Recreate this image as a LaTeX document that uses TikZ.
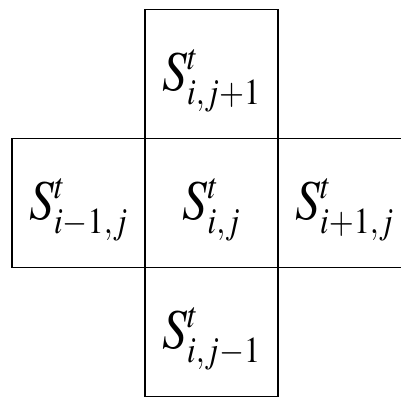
\documentclass[tikz,border=0pt]{standalone}
\usepackage{amsmath}
\usepackage{mathptmx}
\usepackage{graphicx}
\usepackage{tikz}

\DeclareMathSizes{40}{40}{26}{20}
\newcommand{\cellsym}[2]{\raisebox{-5pt}[\height][\depth]{\scalebox{0.88}[1]{$S^{#1}_{#2}$}}}

\tikzset{
    cell/.style={draw, line width=1pt, minimum width=3.33cm, minimum height=3.22cm, inner sep=0pt, outer sep=0pt, font=\fontsize{40}{46}\selectfont}
}

\begin{document}
\begin{tikzpicture}
    \useasboundingbox (0,0) rectangle (10.025,9.95);

    \node[cell] (up) at (5.2875, 8.1) {\cellsym{t}{i,j+1}};

    \node[cell] (left) at (1.9625, 4.875) {\cellsym{t}{i-1,j}};
    \node[cell] (mid) at (5.2875, 4.875) {\cellsym{t}{i,j}};
    \node[cell] (right) at (8.6125, 4.875) {\cellsym{t}{i+1,j}};

    \node[cell] (down) at (5.2875, 1.65) {\cellsym{t}{i,j-1}};
\end{tikzpicture}
\end{document}
